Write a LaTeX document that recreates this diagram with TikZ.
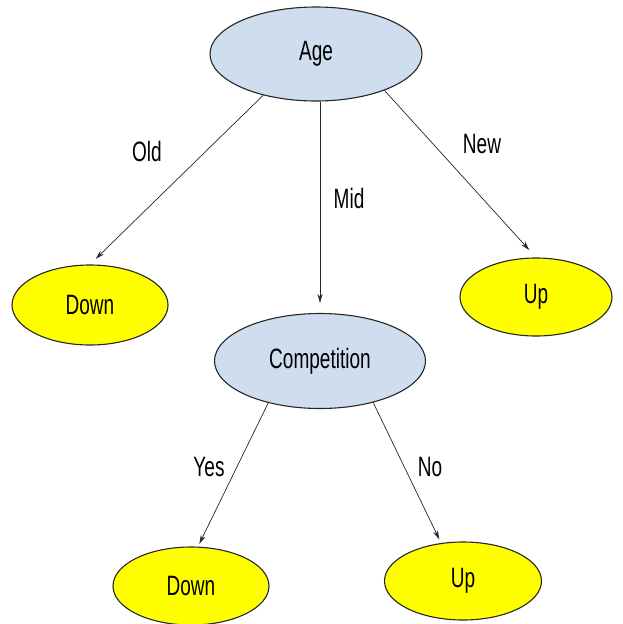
\documentclass[tikz,border=0pt]{standalone}
\usepackage{fontspec}
\setmainfont{Liberation Sans}
\newfontfamily\narrowsf[FakeStretch=0.68]{Liberation Sans}
\usetikzlibrary{arrows.meta,shapes.geometric}

\definecolor{splitblue}{RGB}{207,222,238}
\definecolor{leafyellow}{RGB}{255,255,0}

\begin{document}
\begin{tikzpicture}[x=1pt, y=-1pt,
    split/.style={ellipse, draw=black!85, line width=1.1pt, fill=splitblue, inner sep=0pt, font=\narrowsf\fontsize{28}{32}\selectfont},
    leaf/.style={split, fill=leafyellow},
    edge/.style={-{Stealth[length=9pt,width=5pt]}, line width=0.7pt, draw=black!85},
    lbl/.style={font=\narrowsf\fontsize{28}{32}\selectfont}
]
\useasboundingbox (0,0) rectangle (622,624);

% Tree nodes
\node[split, minimum width=212pt, minimum height=94pt] (age) at (316,54) {Age};
\node[leaf, minimum width=156pt, minimum height=80pt] (downl) at (90,305) {Down};
\node[leaf, minimum width=152pt, minimum height=78pt] (upr) at (536,297) {Up};
\node[split, minimum width=211pt, minimum height=95pt] (comp) at (320,361) {Competition};
\node[leaf, minimum width=156pt, minimum height=78pt] (downb) at (191,586) {Down};
\node[leaf, minimum width=157pt, minimum height=78pt] (upb) at (463,581) {Up};

% Branches
\draw[edge, shorten >=8pt] (age.218) -- (downl.north);
\draw[edge, shorten >=10pt] (comp.north |- age.south) -- (comp.north);
\draw[edge, shorten >=10pt] (age.-28) -- (upr.north);
\draw[edge, shorten >=3pt] (comp.219) -- (downb.80);
\draw[edge, shorten >=4pt] (comp.-38) -- (upb.120);

% Branch labels
\node[lbl] (lold) at (147,151) {Old};
\node[lbl] (lmid) at (349,198) {Mid};
\node[lbl] (lnew) at (482,144) {New};
\node[lbl] (lyes) at (209,467) {Yes};
\node[lbl] (lno) at (430,467) {No};
\end{tikzpicture}
\end{document}
